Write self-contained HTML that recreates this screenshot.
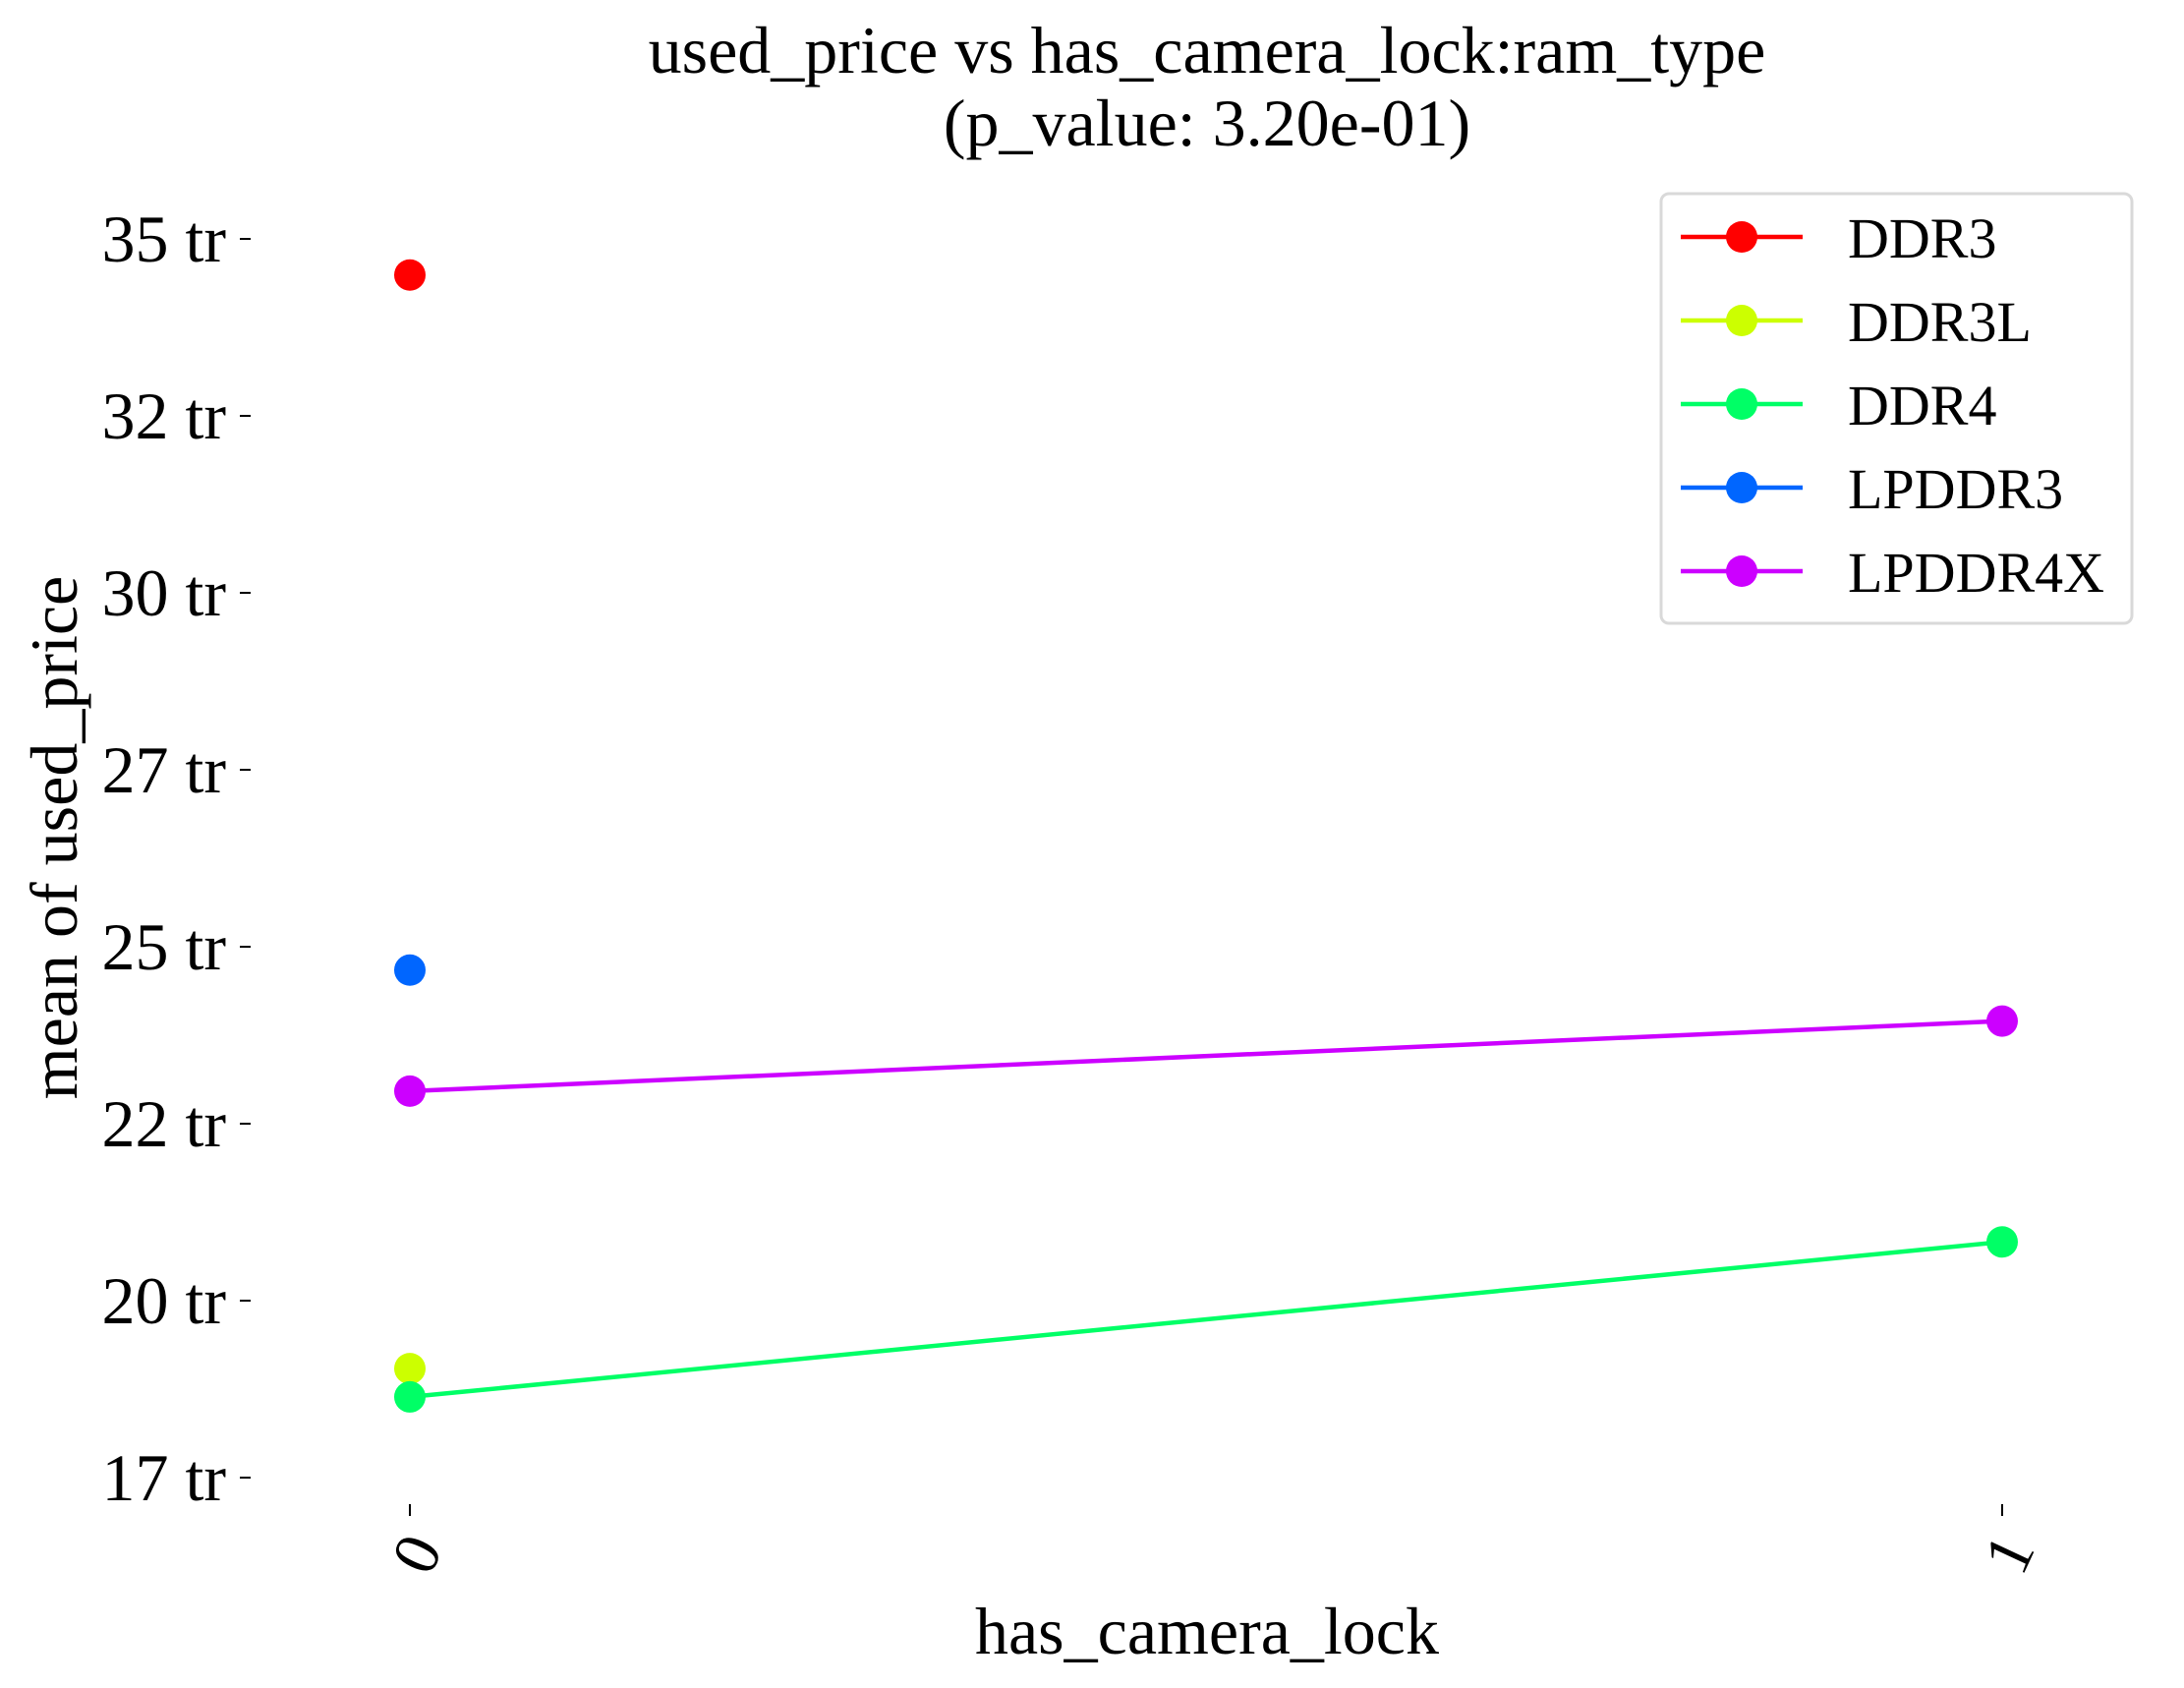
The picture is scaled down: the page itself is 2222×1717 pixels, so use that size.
<!DOCTYPE html>
<html><head><meta charset="utf-8"><style>
html,body{margin:0;padding:0;background:#fff;}
svg{display:block;font-family:"Liberation Serif",serif;}
</style></head><body>
<svg id="chart" width="2222" height="1717" viewBox="0 0 2222 1717">
<g>
<text x="1228" y="74" font-size="68" text-anchor="middle">used_price vs has_camera_lock:ram_type</text>
<text x="1228" y="148" font-size="68" text-anchor="middle">(p_value: 3.20e-01)</text>
</g>
<g id="yaxis"></g>
<g id="xaxis"></g>
<text transform="translate(78,852) rotate(-90)" font-size="68" text-anchor="middle">mean of used_price</text>
<text x="1228" y="1682" font-size="68" text-anchor="middle">has_camera_lock</text>
<g id="series"></g>
<g>
<rect x="1690" y="197" width="479" height="437" rx="8" fill="#fff" stroke="#d9d9d9" stroke-width="3"/>
<g id="legend-entries"></g>
</g>
</svg>
<script>
const categories = ["0", "1"];
const seriesNames = ["DDR3", "DDR3L", "DDR4", "LPDDR3", "LPDDR4X"];
const seriesColors = ["#ff0000", "#ccff00", "#00ff66", "#0066ff", "#cc00ff"];
const valsDDR3 = [34.49, null];
const valsDDR3L = [19.04, null];
const valsDDR4 = [18.64, 20.83];
const valsLPDDR3 = [24.67, null];
const valsLPDDR4X = [22.96, 23.95];
const seriesValues = [valsDDR3, valsDDR3L, valsDDR4, valsLPDDR3, valsLPDDR4X];
const yTicks = [17.5, 20, 22.5, 25, 27.5, 30, 32.5, 35];
const yTickLabels = ["17 tr", "20 tr", "22 tr", "25 tr", "27 tr", "30 tr", "32 tr", "35 tr"];

const NS = "http://www.w3.org/2000/svg";
function yScale(v){ return 243 + (35 - v) * 72.0; }
function xScale(i){ return 417 + i * (2037 - 417); }
function mk(tag, attrs, parent){ const e = document.createElementNS(NS, tag); for (const k in attrs) e.setAttribute(k, attrs[k]); parent.appendChild(e); return e; }

const yaxis = document.getElementById('yaxis');
yTicks.forEach((t, i) => {
  const y = yScale(t);
  const ln = mk('line', {x1: 244, x2: 255, y1: y, y2: y, stroke: '#000', 'stroke-width': 2}, yaxis);
  
  
  const tx = mk('text', {x: 230, y: y + 23, 'font-size': 68, 'text-anchor': 'end'}, yaxis);
  tx.textContent = yTickLabels[i];
  
  
});
const xaxis = document.getElementById('xaxis');
categories.forEach((c, i) => {
  const x = xScale(i);
  const ln = mk('line', {x1: x, x2: x, y1: 1530, y2: 1542, stroke: '#000', 'stroke-width': 2}, xaxis);
  
  
  const tx = mk('text', {transform: 'translate(' + (x + 20) + ',1605) rotate(-65)', 'font-size': 66, 'text-anchor': 'start'}, xaxis);
  tx.textContent = c;
  
  
});

const sg = document.getElementById('series');
seriesValues.forEach((vals, s) => {
  const pts = [];
  vals.forEach((v, i) => { if (v !== null) pts.push([xScale(i), yScale(v)]); });
  if (pts.length > 1) {
    const pl = mk('polyline', {points: pts.map(p => p.join(',')).join(' '), fill: 'none', stroke: seriesColors[s], 'stroke-width': 4.5}, sg);
    
    
  }
  pts.forEach(p => {
    const c = mk('circle', {cx: p[0], cy: p[1], r: 16, fill: seriesColors[s]}, sg);
    
    
  });
});

const lg = document.getElementById('legend-entries');
seriesNames.forEach((n, i) => {
  const y = 241 + i * 85;
  const g = mk('g', {}, lg);
  
  
  mk('line', {x1: 1710, x2: 1834, y1: y, y2: y, stroke: seriesColors[i], 'stroke-width': 4.5}, g);
  mk('circle', {cx: 1772, cy: y, r: 16, fill: seriesColors[i]}, g);
  const t = mk('text', {x: 1880, y: y + 21, 'font-size': 58}, g);
  t.textContent = n;
});
</script>
</body></html>
